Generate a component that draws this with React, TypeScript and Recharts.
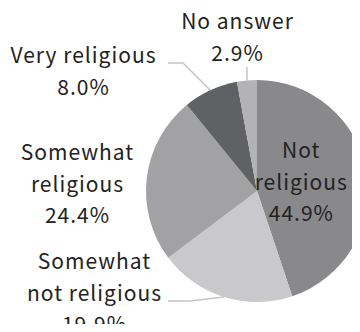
import React from "react";
import { Cell, Pie, PieChart } from "recharts";

const categories = [
  "Not religious",
  "Somewhat not religious",
  "Somewhat religious",
  "Very religious",
  "No answer",
];
const shares = [44.9, 19.9, 24.4, 8.0, 2.9];
const labelLines = [
  ["Not", "religious"],
  ["Somewhat", "not religious"],
  ["Somewhat", "religious"],
  ["Very religious"],
  ["No answer"],
];

const colors = ["#89898b", "#c9c9cb", "#a2a2a4", "#606164", "#b3b3b5"];

// where each label block sits (center x, first baseline) and its leader elbow
const labelLayout: Array<{
  inside?: number;
  x?: number;
  y?: number;
  leader?: Array<[number, number]>;
}> = [
  { inside: 0.4 },
  { x: 94, y: 269, leader: [[190, 301], [168, 301]] },
  { x: 77, y: 160 },
  { x: 83, y: 63, leader: [[183, 63], [168, 63]] },
  { x: 237, y: 29, leader: [[0, 67]] },
];

const data = categories.map((name, i) => ({ name, value: shares[i] }));

const FONT = "'Noto Sans CJK JP', sans-serif";
const LINE_H = 31.5;
const RAD = Math.PI / 180;

function renderLabel(props: any) {
  const { cx, cy, midAngle, outerRadius, index, value } = props;
  const layout = labelLayout[index];
  const lines = [...labelLines[index], `${Number(value).toFixed(1)}%`];
  const ex = cx + outerRadius * Math.cos(-midAngle * RAD);
  const ey = cy + outerRadius * Math.sin(-midAngle * RAD);

  let tx: number;
  let ty: number;
  if (layout.inside) {
    const r = outerRadius * layout.inside;
    tx = cx + r * Math.cos(-midAngle * RAD);
    ty = cy + r * Math.sin(-midAngle * RAD) - ((lines.length - 1) * LINE_H) / 2 + 6;
  } else {
    tx = layout.x as number;
    ty = layout.y as number;
  }

  let path = "";
  if (layout.leader) {
    const pts = layout.leader.map(([px, py]) => [px === 0 ? ex : px, py]);
    path = `M${ex},${ey}` + pts.map(([px, py]) => `L${px},${py}`).join("");
  }

  return (
    <g key={`label-${index}`}>
      {path && <path d={path} fill="none" stroke="#c4c4c4" strokeWidth={1.5} />}
      <text
        x={tx}
        y={ty}
        textAnchor="middle"
        fill="#222"
        fontFamily={FONT}
        fontSize={21}
        letterSpacing={1}
      >
        {lines.map((line, i) => (
          <tspan key={i} x={tx + 0.5} dy={i === 0 ? 0 : LINE_H}>
            {line}
          </tspan>
        ))}
      </text>
    </g>
  );
}

export default function App() {
  return (
    <div style={{ width: 360, height: 332, margin: -8, background: "#fff" }}>
      <PieChart width={360} height={332}>
        <Pie
          data={data}
          dataKey="value"
          nameKey="name"
          cx={252}
          cy={186}
          outerRadius={111}
          startAngle={90}
          endAngle={-270}
          stroke="none"
          label={renderLabel}
          labelLine={false}
          isAnimationActive={false}
        >
          {data.map((entry, i) => (
            <Cell key={`cell-${entry.name}`} fill={colors[i]} />
          ))}
        </Pie>
      </PieChart>
    </div>
  );
}
